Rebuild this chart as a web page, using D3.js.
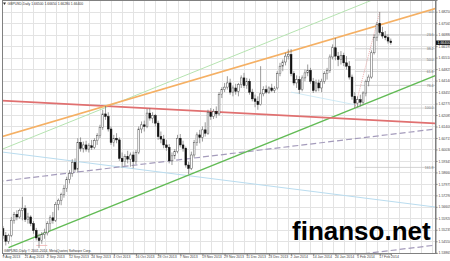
<!DOCTYPE html>
<html>
<head>
<meta charset="utf-8">
<script src="https://cdn.jsdelivr.net/npm/d3@7"></script>
<style>
body { margin: 0; background: #fff; }
svg { display: block; font-family: "Liberation Sans", Arial, sans-serif; }
</style>
</head>
<body>
<svg id="chart" width="450" height="261"></svg>
<script>
// GBPUSD daily, 9 Aug 2013 .. 21 Feb 2014 (bar index 0..140)
var opens = [
  1.5530,1.5490,1.5455,1.5490,1.5580,1.5615,1.5600,1.5640,1.5650,1.5585,
  1.5600,1.5560,1.5520,1.5475,1.5460,1.5495,1.5505,1.5560,1.5595,1.5580,
  1.5675,1.5700,1.5735,1.5770,1.5825,1.5860,1.5925,1.5885,1.6045,1.6010,
  1.6030,1.6005,1.6025,1.6015,1.6055,1.6085,1.6135,1.6215,1.6200,1.6125,
  1.6045,1.6070,1.6060,1.5950,1.5930,1.5960,1.5945,1.5970,1.5930,1.5985,
  1.6125,1.6150,1.6140,1.6220,1.6190,1.6205,1.6160,1.6080,1.6065,1.6030,
  1.6015,1.5935,1.5965,1.5990,1.6070,1.6030,1.6010,1.5910,1.5890,1.5970,
  1.6045,1.6090,1.6075,1.6120,1.6100,1.6225,1.6200,1.6230,1.6215,1.6330,
  1.6360,1.6375,1.6400,1.6345,1.6370,1.6350,1.6390,1.6430,1.6385,1.6410,
  1.6345,1.6305,1.6290,1.6270,1.6335,1.6360,1.6345,1.6370,1.6355,1.6370,
  1.6455,1.6500,1.6525,1.6560,1.6570,1.6455,1.6400,1.6420,1.6360,1.6430,
  1.6460,1.6475,1.6410,1.6355,1.6400,1.6370,1.6410,1.6455,1.6475,1.6555,
  1.6610,1.6560,1.6540,1.6565,1.6520,1.6500,1.6435,1.6320,1.6280,1.6300,
  1.6285,1.6340,1.6410,1.6435,1.6580,1.6670,1.6755,1.6700,1.6680,1.6670,
  1.6650
];
var highs = [
  1.5545,1.5510,1.5500,1.5600,1.5630,1.5640,1.5650,1.5720,1.5670,1.5625,
  1.5610,1.5575,1.5535,1.5500,1.5510,1.5530,1.5575,1.5610,1.5630,1.5690,
  1.5710,1.5745,1.5790,1.5840,1.5880,1.5945,1.5950,1.6070,1.6075,1.6050,
  1.6055,1.6040,1.6060,1.6070,1.6100,1.6150,1.6240,1.6262,1.6225,1.6140,
  1.6090,1.6100,1.6075,1.5985,1.5975,1.5995,1.5985,1.5990,1.6000,1.6140,
  1.6170,1.6175,1.6245,1.6250,1.6225,1.6215,1.6175,1.6110,1.6090,1.6060,
  1.6035,1.5985,1.6005,1.6090,1.6095,1.6055,1.6020,1.5930,1.5990,1.6060,
  1.6105,1.6120,1.6140,1.6165,1.6240,1.6250,1.6245,1.6260,1.6345,1.6375,
  1.6400,1.6440,1.6425,1.6385,1.6395,1.6400,1.6445,1.6460,1.6430,1.6425,
  1.6365,1.6330,1.6320,1.6500,1.6380,1.6385,1.6380,1.6395,1.6380,1.6470,
  1.6520,1.6540,1.6580,1.6600,1.6602,1.6470,1.6445,1.6440,1.6445,1.6480,
  1.6510,1.6490,1.6430,1.6420,1.6420,1.6425,1.6470,1.6490,1.6570,1.6630,
  1.6668,1.6585,1.6590,1.6580,1.6560,1.6530,1.6450,1.6345,1.6320,1.6330,
  1.6350,1.6420,1.6450,1.6595,1.6690,1.6765,1.6823,1.6735,1.6710,1.6690,
  1.6665
];
var lows = [
  1.5470,1.5430,1.5440,1.5480,1.5560,1.5580,1.5590,1.5580,1.5570,1.5560,
  1.5545,1.5500,1.5460,1.5415,1.5440,1.5470,1.5490,1.5520,1.5560,1.5570,
  1.5640,1.5670,1.5715,1.5750,1.5800,1.5840,1.5870,1.5865,1.5990,1.5985,
  1.5990,1.5985,1.6000,1.6005,1.6030,1.6070,1.6120,1.6180,1.6110,1.6030,
  1.6020,1.6040,1.5935,1.5895,1.5905,1.5920,1.5900,1.5890,1.5915,1.5975,
  1.6100,1.6110,1.6130,1.6175,1.6160,1.6140,1.6060,1.6040,1.6010,1.5995,
  1.5920,1.5910,1.5945,1.5980,1.6015,1.5990,1.5895,1.5855,1.5880,1.5955,
  1.6025,1.6040,1.6050,1.6080,1.6090,1.6180,1.6185,1.6190,1.6205,1.6310,
  1.6345,1.6360,1.6330,1.6320,1.6330,1.6320,1.6370,1.6370,1.6365,1.6330,
  1.6290,1.6255,1.6240,1.6265,1.6320,1.6335,1.6335,1.6345,1.6340,1.6360,
  1.6440,1.6470,1.6505,1.6540,1.6440,1.6385,1.6370,1.6335,1.6350,1.6410,
  1.6440,1.6395,1.6340,1.6345,1.6350,1.6345,1.6395,1.6420,1.6460,1.6540,
  1.6535,1.6500,1.6510,1.6500,1.6480,1.6420,1.6300,1.6250,1.6255,1.6260,
  1.6270,1.6320,1.6380,1.6425,1.6570,1.6650,1.6690,1.6665,1.6655,1.6635,
  1.6628
];
var closes = [
  1.5490,1.5455,1.5490,1.5580,1.5615,1.5600,1.5640,1.5650,1.5585,1.5600,
  1.5560,1.5520,1.5475,1.5460,1.5495,1.5505,1.5560,1.5595,1.5580,1.5675,
  1.5700,1.5735,1.5770,1.5825,1.5860,1.5925,1.5885,1.6045,1.6010,1.6030,
  1.6005,1.6025,1.6015,1.6055,1.6085,1.6135,1.6215,1.6200,1.6125,1.6045,
  1.6070,1.6060,1.5950,1.5930,1.5960,1.5945,1.5970,1.5930,1.5985,1.6125,
  1.6150,1.6140,1.6220,1.6190,1.6205,1.6160,1.6080,1.6065,1.6030,1.6015,
  1.5935,1.5965,1.5990,1.6070,1.6030,1.6010,1.5910,1.5890,1.5970,1.6045,
  1.6090,1.6075,1.6120,1.6100,1.6225,1.6200,1.6230,1.6215,1.6330,1.6360,
  1.6375,1.6400,1.6345,1.6370,1.6350,1.6390,1.6430,1.6385,1.6410,1.6345,
  1.6305,1.6290,1.6270,1.6335,1.6360,1.6345,1.6370,1.6355,1.6365,1.6455,
  1.6500,1.6525,1.6560,1.6570,1.6455,1.6400,1.6420,1.6360,1.6430,1.6460,
  1.6475,1.6410,1.6355,1.6400,1.6370,1.6410,1.6455,1.6475,1.6555,1.6610,
  1.6560,1.6540,1.6565,1.6520,1.6500,1.6435,1.6320,1.6280,1.6300,1.6285,
  1.6340,1.6410,1.6435,1.6580,1.6670,1.6750,1.6700,1.6680,1.6670,1.6650,
  1.6640
];

var dateIdx = [0, 8, 16, 24, 32, 40, 48, 56, 64, 72, 80, 88, 96, 104, 112, 120, 128, 136];
var dateLabels = ["9 Aug 2013", "21 Aug 2013", "2 Sep 2013", "12 Sep 2013", "24 Sep 2013",
  "4 Oct 2013", "16 Oct 2013", "28 Oct 2013", "7 Nov 2013", "19 Nov 2013", "29 Nov 2013",
  "11 Dec 2013", "23 Dec 2013", "2 Jan 2014", "14 Jan 2014", "24 Jan 2014", "5 Feb 2014", "17 Feb 2014"];

var priceTicks = [1.68250, 1.67565, 1.66880, 1.66195, 1.65510, 1.64825, 1.64140, 1.63455,
  1.62770, 1.62085, 1.61400, 1.60715, 1.60030, 1.59345, 1.58660, 1.57975, 1.57290,
  1.56605, 1.55920, 1.55235, 1.54550, 1.53865];

// trend lines: two anchors each, [bar index, price]
var orangeLine    = [[37, 1.6262], [120, 1.6668]];
var redLine       = [[37, 1.6262], [52, 1.6249]];
var greenLine     = [[67, 1.5850], [127, 1.6250]];
var paleGreenLine = [[67, 1.6453], [127, 1.6853]];
var dashLine      = [[0, 1.5815], [140, 1.6093]];
var dashLine2     = [[0, 1.5122], [140, 1.5400]];
var blueLine      = [[0, 1.5987], [140, 1.5693]];
var blueShort     = [[104, 1.6345], [127, 1.6270]];
var augLowMark    = [[12, 1.5430], [16, 1.5430]];

// fibo retracement on the Feb swing
var fiboLow = [127, 1.6250];
var fiboHigh = [136, 1.6823];
var fiboLevels = [0, 23.6, 38.2, 50, 61.8, 76.4, 100, 161.8];

var titleText = "GBPUSD,Daily  1.66500 1.66650 1.66280 1.66400";
var copyText = "GBPUSD,Daily  \u00a9 2001-2014, MetaQuotes Software Corp.";
var lastPrice = closes[closes.length - 1];

var plotL = 2, plotR = 435, plotT = 0, plotB = 253;

var x = d3.scaleLinear().domain([0, 140]).range([3, 390.8]);
var y = d3.scaleLinear().domain([1.5385, 1.6895]).range([253, 0]);

var svg = d3.select('#chart');

svg.append('clipPath').attr('id', 'plotclip')
  .append('rect')
  .attr('x', plotL).attr('y', plotT)
  .attr('width', plotR - plotL).attr('height', plotB - plotT);

var plot = svg.append('g').attr('clip-path', 'url(#plotclip)');

// grid
var gridIdx = d3.range(-1, 160, 4);
plot.selectAll('.vgrid')
  .data(gridIdx)
  .enter().append('line')
  .attr('x1', function(d) { return Math.round(x(d)) + 0.5; })
  .attr('x2', function(d) { return Math.round(x(d)) + 0.5; })
  .attr('y1', plotT).attr('y2', plotB)
  .attr('stroke', '#e3e3e3').attr('stroke-width', 1);

plot.selectAll('.hgrid')
  .data(priceTicks)
  .enter().append('line')
  .attr('x1', plotL).attr('x2', plotR)
  .attr('y1', function(d) { return Math.round(y(d)) + 0.5; })
  .attr('y2', function(d) { return Math.round(y(d)) + 0.5; })
  .attr('stroke', '#e3e3e3').attr('stroke-width', 1);

// extend a two-anchor line between bar indices i0 and i1
function extend(line, i0, i1) {
  var a = line[0], b = line[1];
  var k = (b[1] - a[1]) / (b[0] - a[0]);
  return [[i0, a[1] + k * (i0 - a[0])], [i1, a[1] + k * (i1 - a[0])]];
}

function drawLine(pts, color, width, dash) {
  plot.append('line')
    .attr('x1', x(pts[0][0])).attr('y1', y(pts[0][1]))
    .attr('x2', x(pts[1][0])).attr('y2', y(pts[1][1]))
    .attr('stroke', color)
    .attr('stroke-width', width)
    .attr('stroke-dasharray', dash || null);
}

// fibo levels
var fiboRange = fiboHigh[1] - fiboLow[1];
plot.selectAll('.fibo')
  .data(fiboLevels)
  .enter().append('line')
  .attr('x1', x(fiboLow[0])).attr('x2', plotR)
  .attr('y1', function(d) { return y(fiboHigh[1] - fiboRange * d / 100); })
  .attr('y2', function(d) { return y(fiboHigh[1] - fiboRange * d / 100); })
  .attr('stroke', '#c8c8c8').attr('stroke-width', 0.8);

plot.selectAll('.fibolbl')
  .data(fiboLevels)
  .enter().append('text')
  .attr('x', plotR - 1.5)
  .attr('y', function(d) { return y(fiboHigh[1] - fiboRange * d / 100) + 1.2; })
  .attr('text-anchor', 'end')
  .attr('font-size', '3.5px')
  .attr('fill', '#777')
  .text(function(d) { return d3.format('.1f')(d); });

drawLine(extend(blueLine, -2, 158), '#b9dcef', 1);
drawLine(blueShort, '#c4e4f2', 0.8);
drawLine(extend(dashLine, -2, 158), '#a49bbb', 1.2, '6,3');
drawLine(extend(dashLine2, -2, 158), '#a49bbb', 1.2, '6,3');
drawLine(extend(paleGreenLine, -2, 158), '#b5e3b0', 1);
drawLine(extend(greenLine, 2, 158), '#62bb55', 1.4);
drawLine(extend(redLine, -2, 158), '#e07070', 1.8);
drawLine(extend(orangeLine, -2, 158), '#f5b064', 1.6);
drawLine(augLowMark, '#f0b0b0', 0.8);
drawLine([fiboLow, fiboHigh], '#e89090', 0.7, '1,1');

// candles
var bars = d3.range(opens.length);
plot.selectAll('.wick')
  .data(bars)
  .enter().append('line')
  .attr('x1', function(i) { return x(i); })
  .attr('x2', function(i) { return x(i); })
  .attr('y1', function(i) { return y(highs[i]); })
  .attr('y2', function(i) { return y(lows[i]); })
  .attr('stroke', '#707070').attr('stroke-width', 0.7);

plot.selectAll('.body')
  .data(bars)
  .enter().append('rect')
  .attr('x', function(i) { return x(i) - 0.9; })
  .attr('width', 1.8)
  .attr('y', function(i) { return y(Math.max(opens[i], closes[i])); })
  .attr('height', function(i) { return Math.max(0.6, Math.abs(y(opens[i]) - y(closes[i]))); })
  .attr('fill', function(i) { return closes[i] >= opens[i] ? '#fff' : '#111'; })
  .attr('stroke', function(i) { return closes[i] >= opens[i] ? '#555' : '#111'; })
  .attr('stroke-width', 0.5);

// frame and axes
svg.append('rect')
  .attr('x', plotL + 0.5).attr('y', plotT + 0.5)
  .attr('width', plotR - plotL).attr('height', plotB - plotT)
  .attr('fill', 'none').attr('stroke', '#808080').attr('stroke-width', 1);

var yAxis = svg.append('g')
  .attr('transform', 'translate(' + (plotR + 0.5) + ',0)')
  .call(d3.axisRight(y).tickValues(priceTicks).tickSize(2).tickPadding(1).tickFormat(d3.format('.5f')));

var xAxis = svg.append('g')
  .attr('transform', 'translate(0,' + (plotB + 0.5) + ')')
  .call(d3.axisBottom(x).tickValues(dateIdx).tickSize(2).tickPadding(0.5)
    .tickFormat(function(d, i) { return dateLabels[i]; }));

svg.selectAll('.domain').attr('stroke', '#808080');
svg.selectAll('.tick line').attr('stroke', '#808080');
svg.selectAll('.tick text')
  .attr('font-size', '3.5px')
  .attr('font-family', '"Liberation Sans", Arial, sans-serif')
  .attr('fill', '#444');
xAxis.selectAll('.tick text').attr('text-anchor', 'start').attr('dx', '-1');

// current price marker
var pg = svg.append('g').attr('transform', 'translate(' + (plotR + 1) + ',' + y(lastPrice) + ')');
pg.append('rect').attr('x', 0).attr('y', -2.2).attr('width', 15).attr('height', 4.4).attr('fill', '#111');
pg.append('text').attr('x', 1.5).attr('y', 1.2)
  .attr('font-size', '3.5px').attr('fill', '#fff')
  .text(d3.format('.5f')(lastPrice));

// header texts
svg.append('path').attr('d', 'M3,2.5 L6,2.5 L4.5,5 Z').attr('fill', '#333');
svg.append('text').attr('x', 7.5).attr('y', 5)
  .attr('font-size', '3.4px').attr('fill', '#333')
  .text(titleText);

svg.append('text').attr('x', 4).attr('y', plotB - 1.5)
  .attr('font-size', '3.4px').attr('fill', '#333')
  .text(copyText);

// watermark
svg.append('text')
  .attr('x', 292).attr('y', 240)
  .attr('font-size', '26px').attr('font-weight', 'bold')
  .attr('font-family', '"Liberation Sans", Arial, sans-serif')
  .attr('fill', '#000')
  .text('finanso.net');
</script>
</body>
</html>
